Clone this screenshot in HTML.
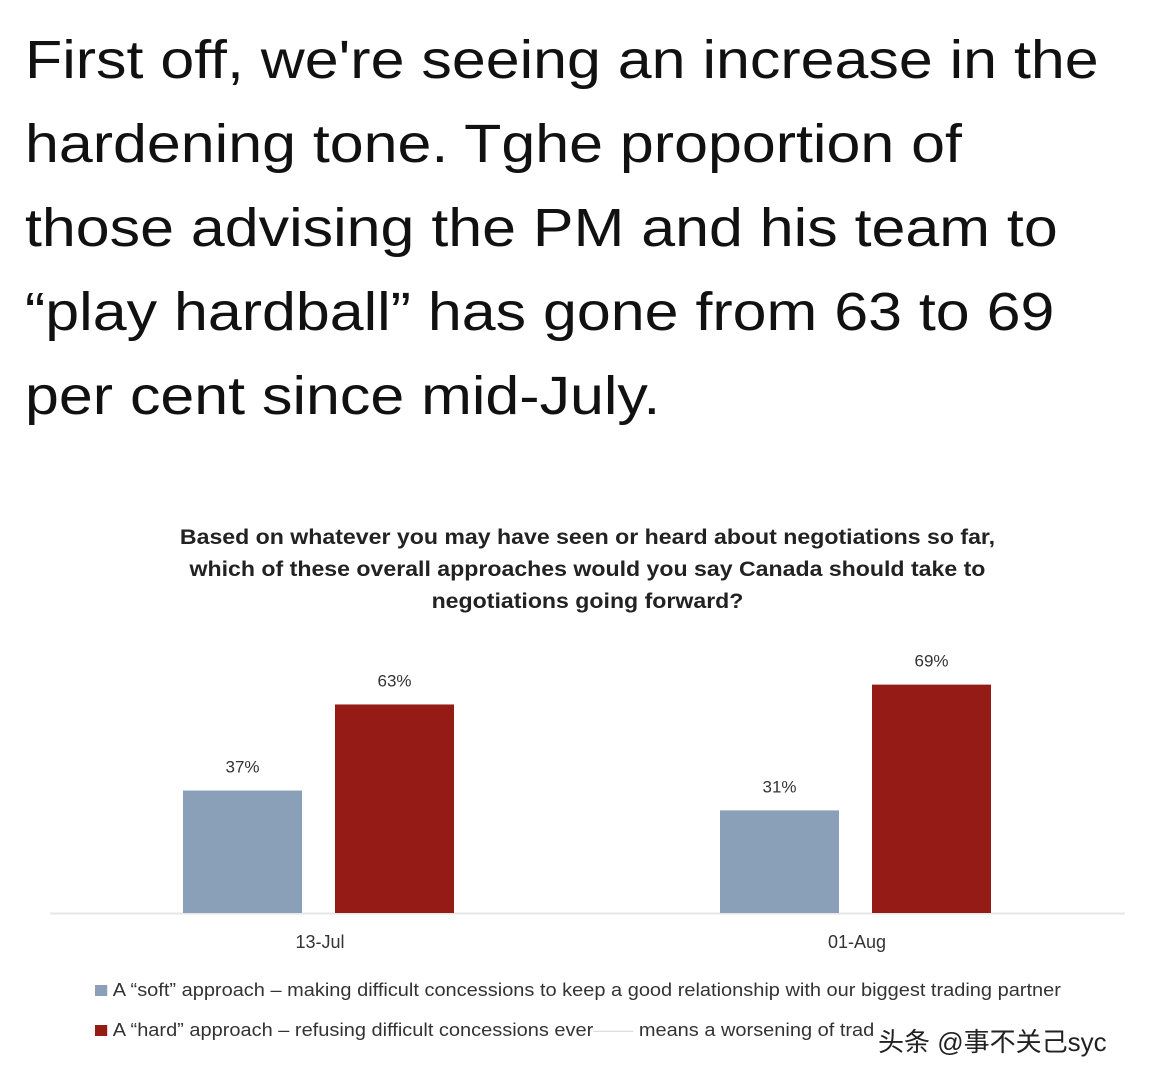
<!DOCTYPE html>
<html><head><meta charset="utf-8"><style>
body{margin:0;width:1172px;height:1080px;background:#fff;overflow:hidden;font-family:"Liberation Sans",sans-serif;position:relative}
#headline{position:absolute;left:25px;top:18px;font-size:54px;line-height:84px;color:#111;white-space:nowrap;transform:scaleX(1.128);transform-origin:left top}
#ctitle{position:absolute;left:100px;width:975px;top:522px;text-align:center;font-weight:bold;font-size:21px;line-height:32px;color:#222;transform:scaleX(1.1);transform-origin:center top}
.leg{position:absolute;left:95px;font-size:18px;color:#333;white-space:nowrap;transform:scaleX(1.11);transform-origin:left top}
.sw{display:inline-block;width:11px;height:11px;margin-right:5px}
#wm{position:absolute;left:878px;top:1022px;font-size:26px;color:#222;font-family:"Liberation Sans","Noto Sans CJK SC",sans-serif;background:rgba(255,255,255,0.6)}
</style></head><body>
<div id="headline">First off, we're seeing an increase in the<br>hardening tone. Tghe proportion of<br>those advising the PM and his team to<br>“play hardball” has gone from 63 to 69<br>per cent since mid-July.</div>
<div id="ctitle">Based on whatever you may have seen or heard about negotiations so far,<br>which of these overall approaches would you say Canada should take to<br>negotiations going forward?</div>
<svg id="chart" width="1172" height="1080" style="position:absolute;left:0;top:0"></svg>
<div class="leg" style="top:980px"><span class="sw" style="background:#8a9fb8"></span>A “soft” approach – making difficult concessions to keep a good relationship with our biggest trading partner</div>
<div class="leg" style="top:1020px"><span class="sw" style="background:#951b16"></span>A “hard” approach – refusing difficult concessions ever<span style="color:#ddd">—— </span>means a worsening of trad</div>
<div id="wm">头条 @事不关己syc</div>
<script>
const categories=["13-Jul","01-Aug"];
const softValues=[37,31];
const hardValues=[63,69];
const svg=document.getElementById('chart');
const NS="http://www.w3.org/2000/svg";
const base=913, pxPer=3.31, bw=119;
const centers=[318,855];
function y(v){return base-v*pxPer;}
function add(tag,attrs,text){const e=document.createElementNS(NS,tag);for(const k in attrs)e.setAttribute(k,attrs[k]);if(text!==undefined)e.textContent=text;svg.appendChild(e);return e;}
const axis=add('line',{x1:50,x2:1125,y1:base+0.5,y2:base+0.5,stroke:'#e6e6e6','stroke-width':2});


categories.forEach((c,i)=>{
  const series=[[softValues[i],'#8a9fb8','soft'],[hardValues[i],'#951b16','hard']];
  series.forEach((s,j)=>{
    const x=centers[i]-135+j*152;
    const r=add('rect',{x:x,y:y(s[0]),width:bw,height:s[0]*pxPer,fill:s[1]});
    
    
    const t=add('text',{x:x+bw/2,y:y(s[0])-18,'text-anchor':'middle','font-size':17,fill:'#333','font-family':'Liberation Sans'},s[0]+'%');
    
    
  });
  const l=add('text',{x:centers[i]+2,y:948,'text-anchor':'middle','font-size':18,fill:'#333','font-family':'Liberation Sans'},c);
  
  
});
</script>
</body></html>
